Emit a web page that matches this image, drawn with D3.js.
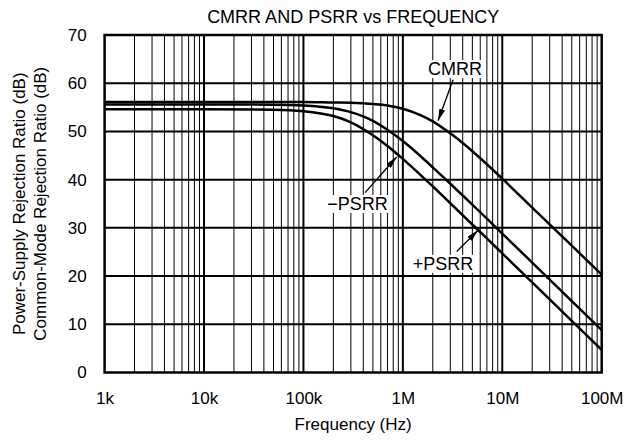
<!DOCTYPE html>
<html>
<head>
<meta charset="utf-8">
<script src="https://cdn.jsdelivr.net/npm/d3@7"></script>
<style>
  html, body { margin: 0; padding: 0; background: #fff; }
  svg { display: block; font-family: "Liberation Sans", Arial, Helvetica, sans-serif; }
</style>
</head>
<body>
<svg id="chart" width="626" height="444"></svg>
<script>
// ---- data ----
const freqs = [1e3, 1e4, 5e4, 1e5, 2e5, 3e5, 5e5, 7e5, 1e6, 1.5e6, 2e6, 3e6, 5e6, 7e6, 1e7, 2e7, 5e7, 1e8];
const cmrr      = [56.1, 56.1, 56.1, 56.1, 56.0, 55.95, 55.7, 55.4, 54.7, 53.4, 52.1, 49.6, 45.9, 43.2, 40.2, 34.2, 26.3, 20.3];
const psrrMinus = [55.6, 55.6, 55.55, 55.4, 54.8, 54.0, 52.2, 50.35, 48.0, 44.9, 42.55, 39.15, 34.8, 31.9, 28.8, 22.8, 14.8, 8.8];
const psrrPlus  = [54.6, 54.6, 54.5, 54.2, 53.2, 51.9, 49.2, 47.0, 44.3, 41.0, 38.6, 35.1, 30.7, 27.8, 24.7, 18.7, 10.7, 4.7];

const xTicks = [1e3, 1e4, 1e5, 1e6, 1e7, 1e8];
const xTickLabels = ["1k", "10k", "100k", "1M", "10M", "100M"];
const yTicks = [0, 10, 20, 30, 40, 50, 60, 70];

const annLabels   = ["CMRR", "\u2212PSRR", "+PSRR"];
const annTextFreq = [3.35e6, 3.5e5, 2.54e6];
const annTextDb   = [61.7, 33.7, 21.3];
const annTailFreq = [3.2e6, 4.17e5, 3.48e6];
const annTailDb   = [60.7, 37.3, 25.1];
const annTipFreq  = [2.26e6, 8.65e5, 5.71e6];
const annTipDb    = [52.2, 44.7, 29.5];

const titleText = "CMRR AND PSRR vs FREQUENCY";
const xTitle = "Frequency (Hz)";
const yTitle1 = "Power-Supply Rejection Ratio (dB)";
const yTitle2 = "Common-Mode Rejection Ratio (dB)";

// ---- layout ----
const W = 626, H = 444;
const L = 104.6, R = 601.7, T = 35, B = 372.5;
const svg = d3.select("#chart");

const x = d3.scaleLog().domain([1e3, 1e8]).range([L, R]);
const y = d3.scaleLinear().domain([0, 70]).range([B, T]);

// grid: minor verticals
const minor = [];
for (let e = 3; e < 8; e++) for (let m = 2; m <= 9; m++) minor.push(m * Math.pow(10, e));
const grid = svg.append("g");
grid.selectAll("line.minor").data(minor).join("line")
  .attr("x1", d => x(d)).attr("x2", d => x(d))
  .attr("y1", T).attr("y2", B)
  .attr("stroke", "#000").attr("stroke-width", 1);
grid.selectAll("line.major").data(xTicks.slice(1, -1)).join("line")
  .attr("x1", d => x(d)).attr("x2", d => x(d))
  .attr("y1", T).attr("y2", B)
  .attr("stroke", "#000").attr("stroke-width", 2);
grid.selectAll("line.h").data(yTicks.slice(1, -1)).join("line")
  .attr("x1", L).attr("x2", R)
  .attr("y1", d => y(d)).attr("y2", d => y(d))
  .attr("stroke", "#000").attr("stroke-width", 2);

// curves
const line = d3.line().x(d => x(d[0])).y(d => y(d[1])).curve(d3.curveMonotoneX);
[cmrr, psrrMinus, psrrPlus].forEach(series => {
  svg.append("path")
    .datum(freqs.map((f, i) => [f, series[i]]))
    .attr("d", line)
    .attr("fill", "none")
    .attr("stroke", "#000")
    .attr("stroke-width", 2.5);
});

// border
svg.append("rect").attr("x", L).attr("y", T).attr("width", R - L).attr("height", B - T)
  .attr("fill", "none").attr("stroke", "#000").attr("stroke-width", 2.5);

// axes
const yAxis = svg.append("g").attr("transform", `translate(${L},0)`)
  .call(d3.axisLeft(y).tickValues(yTicks).tickSize(0).tickPadding(18));
yAxis.select(".domain").remove();
yAxis.selectAll("text").attr("font-size", 17).attr("fill", "#000").attr("font-family", null);

const xAxis = svg.append("g").attr("transform", `translate(0,${B})`)
  .call(d3.axisBottom(x).tickValues(xTicks).tickFormat((d, i) => xTickLabels[i]).tickSize(0).tickPadding(19));
xAxis.select(".domain").remove();
xAxis.selectAll("text").attr("font-size", 17).attr("fill", "#000").attr("font-family", null);

// titles
svg.append("text").attr("x", (L + R) / 2).attr("y", 23).attr("text-anchor", "middle")
  .attr("font-size", 18).text(titleText);
svg.append("text").attr("x", (L + R) / 2).attr("y", 430).attr("text-anchor", "middle")
  .attr("font-size", 17).text(xTitle);
svg.append("text").attr("transform", `translate(24.6,${(T + B) / 2}) rotate(-90)`)
  .attr("text-anchor", "middle").attr("font-size", 17).text(yTitle1);
svg.append("text").attr("transform", `translate(46,${(T + B) / 2}) rotate(-90)`)
  .attr("text-anchor", "middle").attr("font-size", 17).text(yTitle2);

// arrow marker
svg.append("defs").append("marker")
  .attr("id", "ah").attr("viewBox", "0 0 12 6").attr("refX", 12).attr("refY", 3)
  .attr("markerWidth", 12).attr("markerHeight", 6).attr("markerUnits", "userSpaceOnUse")
  .attr("orient", "auto")
  .append("path").attr("d", "M0,0 L12,3 L0,6 Z").attr("fill", "#000");

// annotations
annLabels.forEach((lab, i) => {
  const g = svg.append("g");
  const t = g.append("text").attr("x", x(annTextFreq[i])).attr("y", y(annTextDb[i]))
    .attr("text-anchor", "middle").attr("font-size", 18).text(lab);
  const bb = t.node().getBBox();
  g.insert("rect", "text").attr("x", bb.x - 3).attr("y", bb.y + 1).attr("width", bb.width + 6).attr("height", bb.height - 2)
    .attr("fill", "#fff");
  svg.append("line")
    .attr("x1", x(annTailFreq[i])).attr("y1", y(annTailDb[i]))
    .attr("x2", x(annTipFreq[i])).attr("y2", y(annTipDb[i]))
    .attr("stroke", "#000").attr("stroke-width", 1.3)
    .attr("marker-end", "url(#ah)");
});
</script>
</body>
</html>
